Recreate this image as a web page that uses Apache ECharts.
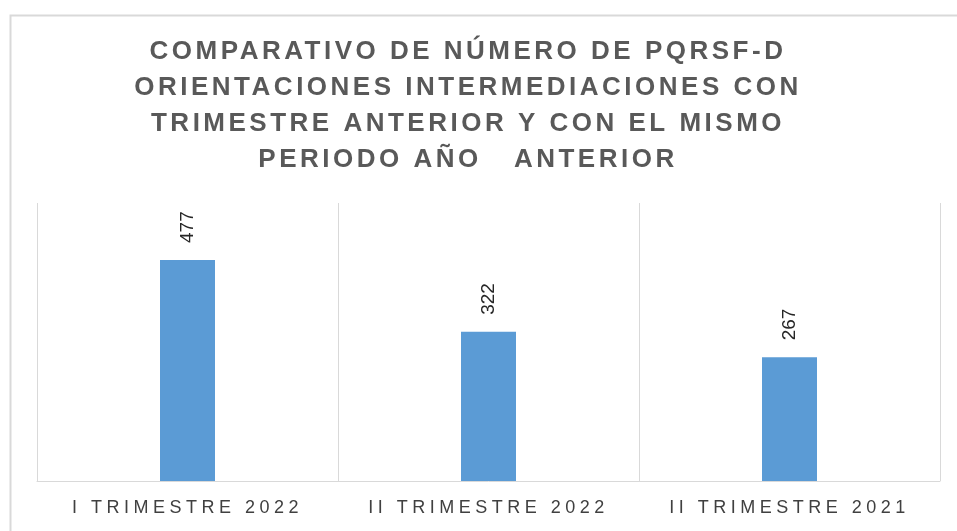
<!DOCTYPE html>
<html>
<head>
<meta charset="utf-8">
<script src="https://cdn.jsdelivr.net/npm/echarts@6/dist/echarts.min.js"></script>
<style>
  html, body { margin: 0; padding: 0; background: #fff; }
  #chart { width: 957px; height: 531px; }
</style>
</head>
<body>
<div id="chart"></div>
<script>
var titleText = 'COMPARATIVO DE NÚMERO DE PQRSF-D\nORIENTACIONES INTERMEDIACIONES CON\nTRIMESTRE ANTERIOR Y CON EL MISMO\nPERIODO AÑO   ANTERIOR';
var categories = ['I TRIMESTRE 2022', 'II TRIMESTRE 2022', 'II TRIMESTRE 2021'];
var values = [477, 322, 267];
var yMax = 600;

// echarts has no letter spacing option, so set it on the canvas when text is drawn
var spacing = { '26': '3.5px', '18': '4.5px' };
var fillText = CanvasRenderingContext2D.prototype.fillText;
CanvasRenderingContext2D.prototype.fillText = function (text, x, y, maxWidth) {
    var m = /(\d+)px/.exec(this.font);
    this.letterSpacing = (m && spacing[m[1]]) || '0px';
    if (maxWidth === undefined) {
        return fillText.call(this, text, x, y);
    }
    return fillText.call(this, text, x, y, maxWidth);
};

var chart = echarts.init(document.getElementById('chart'));

var option = {
    animation: false,
    backgroundColor: '#fff',
    title: {
        text: titleText,
        left: 463,
        top: 29,
        textAlign: 'center',
        textStyle: {
            fontFamily: '"Liberation Sans", Arial, sans-serif',
            fontSize: 26,
            fontWeight: 'bold',
            lineHeight: 36,
            color: '#595959'
        }
    },
    graphic: [{
        type: 'rect',
        left: 8,
        top: 13,
        shape: { width: 1000, height: 600 },
        style: { fill: 'none', stroke: '#d9d9d9', lineWidth: 2 },
        silent: true
    }],
    grid: {
        left: 37,
        right: 17,
        top: 203,
        bottom: 50
    },
    xAxis: {
        type: 'category',
        data: categories,
        axisLine: { lineStyle: { color: '#d9d9d9', width: 1 } },
        axisTick: { show: false },
        splitLine: { show: true, lineStyle: { color: '#d9d9d9', width: 1 } },
        axisLabel: {
            margin: 18,
            fontFamily: '"Liberation Sans", Arial, sans-serif',
            fontSize: 18,
            color: '#404040'
        }
    },
    yAxis: {
        type: 'value',
        min: 0,
        max: yMax,
        show: false
    },
    series: [{
        type: 'bar',
        data: values,
        barWidth: 55,
        itemStyle: { color: '#5b9bd5' },
        label: {
            show: true,
            position: 'top',
            rotate: 90,
            align: 'left',
            verticalAlign: 'middle',
            distance: 17,
            fontFamily: '"Liberation Sans", Arial, sans-serif',
            fontSize: 19,
            color: '#262626'
        }
    }]
};

chart.setOption(option);
</script>
</body>
</html>
